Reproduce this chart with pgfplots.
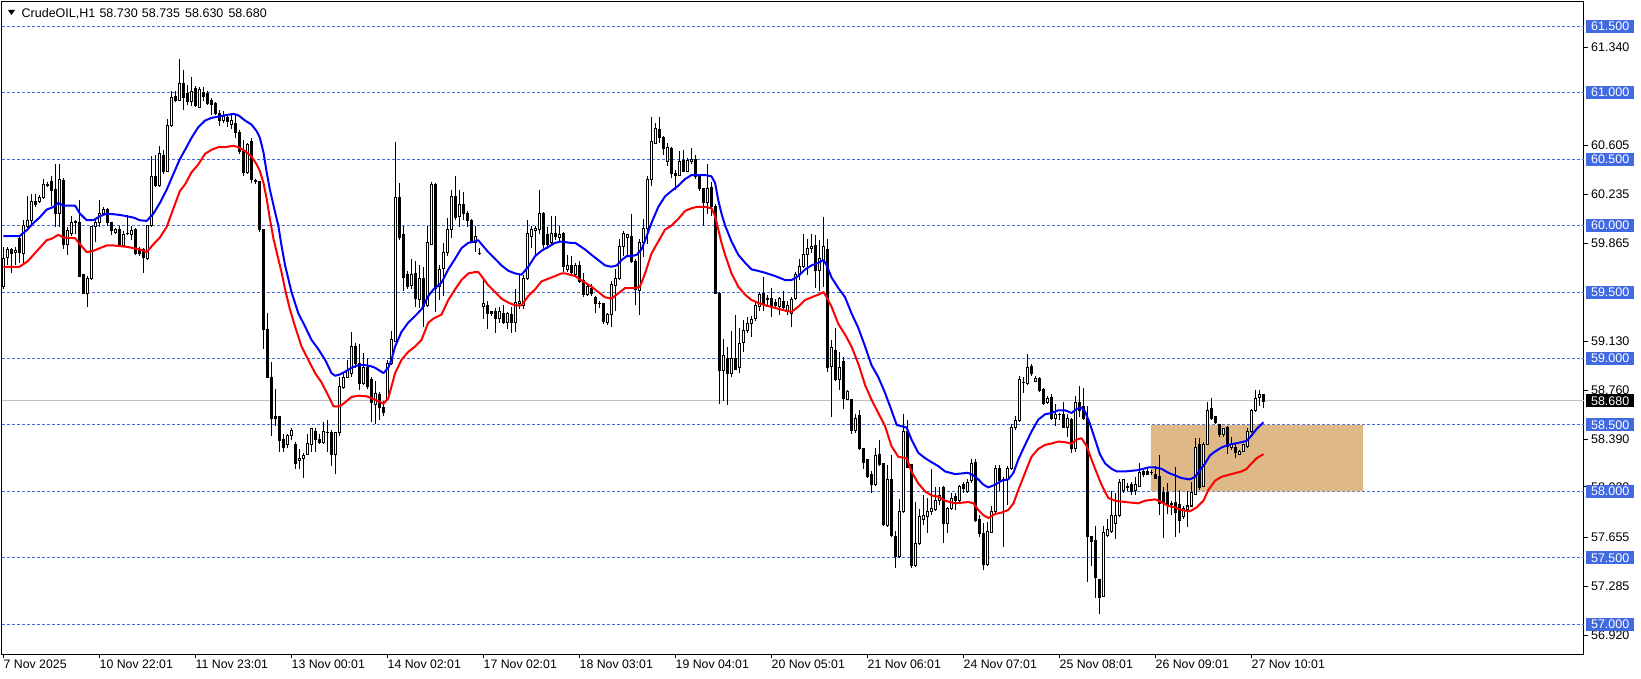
\documentclass[border=0pt]{standalone}
\usepackage{pgfplots}
\usepackage{pgfplotstable}
\pgfplotsset{compat=1.18}
\usepackage{fontspec}
\setmainfont{Liberation Sans}
\definecolor{mtblue}{RGB}{65,105,225}
\definecolor{boxtan}{RGB}{222,184,135}
\definecolor{pricegray}{RGB}{192,192,192}
\newcommand{\lbl}{\fontsize{12.5}{14}\selectfont}

\pgfplotstableread{
n o h l c
0 59.54 59.84 59.52 59.75
1 59.76 59.84 59.70 59.82
2 59.82 59.83 59.64 59.79
3 59.80 59.84 59.70 59.81
4 59.90 59.92 59.72 59.80
5 59.79 60.04 59.72 60.00
6 59.99 60.22 59.97 60.04
7 60.04 60.24 60.00 60.18
8 60.18 60.24 60.14 60.16
9 60.18 60.23 60.17 60.21
10 60.21 60.35 60.20 60.31
11 60.31 60.33 60.29 60.30
12 60.33 60.37 60.15 60.26
13 60.27 60.46 59.99 60.09
14 60.09 60.46 59.99 60.35
15 60.34 60.36 59.82 59.86
16 59.86 59.99 59.78 59.96
17 59.94 60.07 59.92 60.02
18 60.03 60.04 59.94 60.02
19 60.02 60.19 59.62 59.62
20 59.63 59.63 59.49 59.49
21 59.49 59.62 59.39 59.60
22 59.60 60.00 59.59 59.99
23 59.99 60.04 59.88 60.02
24 60.02 60.19 59.99 60.09
25 60.09 60.14 60.08 60.12
26 60.12 60.13 60.00 60.02
27 60.02 60.03 59.93 59.96
28 59.95 59.98 59.94 59.97
29 59.97 60.00 59.84 59.85
30 59.85 59.96 59.84 59.93
31 59.94 60.08 59.93 59.94
32 59.93 60.00 59.89 59.96
33 59.97 59.98 59.78 59.79
34 59.82 59.84 59.77 59.79
35 59.82 59.83 59.64 59.76
36 59.75 60.00 59.74 60.00
37 60.00 60.52 59.99 60.37
38 60.37 60.53 60.29 60.30
39 60.30 60.60 60.29 60.54
40 60.53 60.57 60.39 60.41
41 60.41 60.80 60.40 60.75
42 60.75 61.01 60.74 60.96
43 60.97 61.01 60.93 60.94
44 60.94 61.25 60.94 61.07
45 61.07 61.17 60.87 60.96
46 60.99 61.06 60.91 60.93
47 60.93 61.12 60.90 61.01
48 61.03 61.05 60.89 60.90
49 60.89 61.04 60.89 61.02
50 61.00 61.04 60.94 60.97
51 60.99 61.01 60.91 60.92
52 60.94 60.96 60.83 60.91
53 60.92 60.93 60.83 60.84
54 60.84 60.87 60.75 60.79
55 60.79 60.86 60.77 60.82
56 60.81 60.84 60.74 60.78
57 60.76 60.84 60.73 60.79
58 60.77 60.84 60.66 60.70
59 60.70 60.72 60.54 60.56
60 60.56 60.64 60.37 60.40
61 60.40 60.62 60.39 60.61
62 60.63 60.66 60.32 60.35
63 60.34 60.35 60.31 60.33
64 60.33 60.33 59.95 59.97
65 59.97 59.97 59.07 59.22
66 59.22 59.34 58.85 58.86
67 58.86 58.97 58.42 58.55
68 58.56 58.77 58.49 58.55
69 58.56 58.57 58.30 58.38
70 58.39 58.43 58.30 58.33
71 58.35 58.43 58.33 58.42
72 58.42 58.48 58.39 58.46
73 58.35 58.37 58.17 58.21
74 58.23 58.32 58.17 58.25
75 58.25 58.29 58.10 58.27
76 58.28 58.43 58.27 58.36
77 58.35 58.48 58.30 58.47
78 58.45 58.48 58.30 58.39
79 58.39 58.43 58.36 58.37
80 58.37 58.52 58.36 58.45
81 58.44 58.54 58.30 58.44
82 58.44 58.46 58.19 58.28
83 58.28 58.45 58.13 58.44
84 58.44 58.86 58.42 58.79
85 58.78 58.89 58.77 58.86
86 58.86 58.99 58.86 58.91
87 58.89 59.20 58.86 59.09
88 59.09 59.12 58.93 58.96
89 58.96 59.11 58.76 58.81
90 58.81 59.04 58.80 58.93
91 58.93 59.00 58.77 58.79
92 58.84 58.86 58.52 58.67
93 58.65 58.83 58.51 58.74
94 58.73 58.75 58.54 58.63
95 58.63 58.68 58.57 58.59
96 58.70 58.99 58.69 58.96
97 58.96 59.21 58.95 59.14
98 59.13 60.63 59.13 60.21
99 60.21 60.32 59.89 59.91
100 59.93 60.00 59.51 59.61
101 59.63 59.66 59.52 59.54
102 59.55 59.75 59.52 59.63
103 59.64 59.73 59.39 59.45
104 59.44 59.70 59.38 59.60
105 59.60 59.69 59.24 59.39
106 59.40 60.00 59.39 59.87
107 59.86 60.33 59.85 60.31
108 60.31 60.32 59.35 59.53
109 59.54 59.70 59.44 59.67
110 59.68 59.87 59.47 59.80
111 59.80 60.06 59.77 59.97
112 59.97 60.27 59.91 60.22
113 60.22 60.37 60.04 60.06
114 60.07 60.27 59.99 60.16
115 60.16 60.25 60.04 60.09
116 60.09 60.11 59.99 60.04
117 60.04 60.05 59.87 59.87
118 59.87 60.00 59.80 59.92
119 59.79 59.83 59.78 59.79
120 59.39 59.60 59.30 59.41
121 59.40 59.43 59.22 59.34
122 59.35 59.36 59.32 59.34
123 59.35 59.38 59.19 59.30
124 59.30 59.39 59.27 59.35
125 59.34 59.40 59.26 59.27
126 59.27 59.35 59.22 59.34
127 59.33 59.39 59.19 59.27
128 59.27 59.52 59.20 59.42
129 59.41 59.63 59.37 59.43
130 59.40 59.63 59.37 59.60
131 59.60 60.04 59.59 59.94
132 59.92 60.00 59.83 59.97
133 59.96 60.00 59.77 59.98
134 59.97 60.27 59.94 60.09
135 60.09 60.10 59.81 59.86
136 59.93 59.99 59.82 59.86
137 59.87 60.07 59.86 59.94
138 59.94 60.07 59.89 59.92
139 59.91 60.00 59.88 59.93
140 59.94 59.95 59.65 59.69
141 59.67 59.78 59.65 59.70
142 59.70 59.77 59.63 59.65
143 59.63 59.72 59.62 59.70
144 59.70 59.73 59.57 59.58
145 59.59 59.64 59.46 59.48
146 59.48 59.57 59.47 59.54
147 59.53 59.56 59.47 59.49
148 59.46 59.47 59.34 59.41
149 59.41 59.43 59.38 59.41
150 59.41 59.42 59.26 59.28
151 59.27 59.34 59.25 59.33
152 59.33 59.58 59.24 59.56
153 59.55 59.67 59.36 59.60
154 59.60 59.90 59.59 59.84
155 59.84 59.96 59.77 59.94
156 59.91 59.94 59.77 59.93
157 59.92 60.09 59.72 59.73
158 59.73 59.75 59.40 59.52
159 59.51 59.90 59.33 59.87
160 59.87 60.05 59.76 59.98
161 59.98 60.37 59.86 60.35
162 60.35 60.82 60.30 60.63
163 60.62 60.77 60.61 60.73
164 60.72 60.82 60.62 60.66
165 60.66 60.67 60.53 60.58
166 60.48 60.62 60.45 60.59
167 60.58 60.59 60.36 60.39
168 60.39 60.42 60.27 60.38
169 60.38 60.56 60.37 60.48
170 60.49 60.57 60.40 60.41
171 60.41 60.51 60.40 60.49
172 60.48 60.58 60.46 60.50
173 60.50 60.53 60.35 60.37
174 60.37 60.39 60.26 60.28
175 60.28 60.28 60.00 60.17
176 60.17 60.46 60.09 60.28
177 60.29 60.33 60.07 60.14
178 60.14 60.16 59.49 59.49
179 59.49 59.50 58.66 58.91
180 58.91 59.15 58.68 59.02
181 59.00 59.09 58.65 58.89
182 58.89 59.21 58.86 59.00
183 59.00 59.33 58.91 58.92
184 58.93 59.23 58.89 59.11
185 59.12 59.29 59.05 59.21
186 59.21 59.31 59.19 59.26
187 59.26 59.32 59.16 59.29
188 59.30 59.43 59.28 59.40
189 59.39 59.50 59.36 59.48
190 59.49 59.61 59.36 59.41
191 59.45 59.48 59.39 59.44
192 59.45 59.53 59.31 59.39
193 59.42 59.45 59.38 59.40
194 59.39 59.46 59.33 59.45
195 59.43 59.51 59.37 59.38
196 59.35 59.43 59.33 59.40
197 59.34 59.46 59.24 59.44
198 59.45 59.65 59.44 59.63
199 59.63 59.75 59.59 59.69
200 59.69 59.94 59.68 59.78
201 59.78 59.90 59.63 59.83
202 59.83 59.94 59.79 59.84
203 59.85 59.93 59.53 59.66
204 59.66 59.89 59.51 59.75
205 59.74 60.065 59.54 59.84
206 59.82 59.90 58.90 58.93
207 58.94 59.14 58.56 59.08
208 59.06 59.23 58.83 58.84
209 58.84 59.05 58.76 58.93
210 58.98 59.01 58.62 58.70
211 58.69 58.76 58.69 58.75
212 58.69 58.69 58.43 58.46
213 58.46 58.58 58.44 58.55
214 58.57 58.61 58.31 58.32
215 58.32 58.33 58.17 58.22
216 58.24 58.24 58.10 58.11
217 58.13 58.15 57.99 58.05
218 58.05 58.33 58.04 58.27
219 58.28 58.39 58.19 58.20
220 58.21 58.21 57.74 57.75
221 57.74 58.20 57.73 58.09
222 58.09 58.27 57.66 57.67
223 57.66 57.70 57.42 57.51
224 57.51 57.94 57.50 57.85
225 57.85 58.58 57.84 58.45
226 58.45 58.54 58.18 58.18
227 58.20 58.20 57.42 57.44
228 57.44 57.92 57.43 57.61
229 57.61 57.87 57.60 57.81
230 57.79 57.97 57.75 57.82
231 57.81 57.95 57.69 57.85
232 57.85 58.17 57.82 57.87
233 57.86 58.03 57.85 57.93
234 57.93 58.03 57.90 57.97
235 58.03 58.04 57.61 57.76
236 57.76 57.88 57.69 57.87
237 57.87 57.99 57.86 57.95
238 57.96 57.99 57.86 57.93
239 57.93 58.05 57.92 58.04
240 58.05 58.07 57.99 58.02
241 58.00 58.09 57.99 58.07
242 58.08 58.24 58.06 58.21
243 58.22 58.24 57.77 57.78
244 57.79 57.82 57.66 57.68
245 57.68 57.76 57.41 57.45
246 57.45 57.77 57.44 57.70
247 57.69 57.89 57.69 57.85
248 57.85 58.20 57.84 58.17
249 58.17 58.20 58.00 58.08
250 58.09 58.11 57.58 58.08
251 58.09 58.19 57.90 58.17
252 58.17 58.51 58.16 58.48
253 58.48 58.57 58.46 58.53
254 58.53 58.87 58.52 58.84
255 58.82 58.86 58.74 58.82
256 58.81 59.03 58.80 58.93
257 58.94 58.96 58.87 58.89
258 58.83 58.87 58.82 58.85
259 58.85 58.86 58.75 58.76
260 58.77 58.78 58.65 58.66
261 58.67 58.72 58.66 58.70
262 58.71 58.73 58.54 58.55
263 58.55 58.66 58.49 58.58
264 58.58 58.59 58.54 58.58
265 58.58 58.67 58.48 58.48
266 58.48 58.58 58.41 58.55
267 58.54 58.55 58.29 58.32
268 58.32 58.72 58.30 58.67
269 58.67 58.79 58.56 58.61
270 58.64 58.78 58.54 58.55
271 58.55 58.64 57.32 57.66
272 57.66 57.66 57.44 57.62
273 57.63 57.74 57.20 57.35
274 57.34 57.34 57.08 57.20
275 57.21 57.74 57.21 57.69
276 57.67 57.79 57.66 57.71
277 57.70 58.00 57.69 57.82
278 57.76 57.99 57.64 57.82
279 57.82 58.09 57.81 58.07
280 58.01 58.09 57.99 58.09
281 58.04 58.06 58.00 58.03
282 58.05 58.07 57.97 58.00
283 58.01 58.11 57.97 58.05
284 58.04 58.21 58.03 58.14
285 58.15 58.16 58.11 58.13
286 58.15 58.17 58.12 58.13
287 58.14 58.16 58.12 58.14
288 58.13 58.19 58.09 58.10
289 58.11 58.27 57.82 57.91
290 57.99 58.03 57.65 57.91
291 57.99 58.06 57.83 57.90
292 57.91 57.93 57.82 57.90
293 57.92 58.18 57.66 57.84
294 57.90 58.01 57.69 57.78
295 57.81 57.89 57.79 57.87
296 57.86 58.00 57.73 57.89
297 57.89 58.07 57.88 57.99
298 57.98 58.40 57.97 58.33
299 58.35 58.40 58.01 58.03
300 58.04 58.37 58.03 58.35
301 58.35 58.67 58.35 58.61
302 58.62 58.70 58.54 58.55
303 58.56 58.57 58.51 58.52
304 58.50 58.51 58.41 58.43
305 58.43 58.48 58.41 58.47
306 58.48 58.49 58.28 58.34
307 58.33 58.41 58.31 58.35
308 58.33 58.36 58.25 58.29
309 58.28 58.31 58.27 58.30
310 58.30 58.36 58.30 58.35
311 58.34 58.48 58.33 58.45
312 58.45 58.62 58.44 58.61
313 58.61 58.76 58.60 58.70
314 58.71 58.76 58.64 58.73
315 58.73 58.735 58.63 58.68
}\candles

\pgfplotstableread{
n p
0 59.92
4 59.92
6 59.97
7.5 60.02
9 60.06
10.8 60.12
12.5 60.14
13.7 60.17
15 60.15
17.9 60.15
19.1 60.09
20.8 60.04
22.5 60.04
24.1 60.07
25.8 60.09
27.5 60.085
29.1 60.08
30.8 60.07
32.5 60.06
34.1 60.04
35.8 60.035
37.5 60.09
39.1 60.17
40.8 60.27
42.5 60.39
44.1 60.50
45.4 60.57
47.0 60.66
48.7 60.74
50.4 60.79
52.0 60.81
53.7 60.82
55.4 60.83
57.5 60.84
58.7 60.83
60.4 60.79
62.0 60.76
63.3 60.71
64.1 60.66
65.0 60.55
65.8 60.40
66.6 60.27
67.9 60.10
68.7 60.00
69.5 59.85
70.4 59.70
71.2 59.60
72.0 59.50
73.7 59.34
75.4 59.24
77.0 59.14
78.7 59.07
80.4 58.99
82.0 58.89
82.9 58.87
84.1 58.88
85.4 58.90
87.0 58.93
88.7 58.95
90.4 58.95
92.0 58.94
92.9 58.93
95.0 58.89
96.2 58.93
97.0 58.99
97.9 59.09
99.5 59.20
101.2 59.27
102.9 59.32
104.5 59.37
106.2 59.47
107.5 59.52
109.5 59.57
111.2 59.67
112.9 59.75
114.5 59.83
116.2 59.87
117.9 59.88
118.7 59.89
119.5 59.86
121.2 59.80
122.9 59.75
124.5 59.70
126.2 59.66
127.9 59.64
129.5 59.63
131.2 59.69
132.9 59.77
134.5 59.81
136.2 59.84
137.9 59.87
139.5 59.88
141.6 59.87
142.9 59.87
145.4 59.82
147.0 59.78
148.7 59.74
150.4 59.70
152.0 59.69
153.3 59.70
154.5 59.74
155.8 59.77
157.0 59.77
158.3 59.78
159.5 59.82
160.8 59.92
162.0 60.02
163.7 60.14
165.4 60.22
167.0 60.26
168.7 60.30
170.4 60.35
172.0 60.38
173.7 60.38
175.4 60.38
177.0 60.37
177.9 60.32
178.7 60.19
179.5 60.09
180.4 60.00
182.0 59.88
183.7 59.78
185.4 59.72
187.0 59.67
188.5 59.66
190.4 59.645
192.9 59.62
195.4 59.59
197.0 59.59
198.7 59.62
200.4 59.67
202.0 59.70
203.7 59.72
205.0 59.74
205.8 59.70
207.0 59.61
208.7 59.53
210.4 59.46
212.0 59.34
213.7 59.23
215.4 59.09
217.0 58.95
218.7 58.86
220.4 58.74
222.0 58.61
223.3 58.50
224.5 58.49
225.8 58.48
227.0 58.39
228.7 58.29
230.4 58.25
232.0 58.22
233.7 58.19
235.4 58.15
237.9 58.13
241.2 58.14
242.5 58.12
243.7 58.09
245.0 58.05
246.2 58.03
247.9 58.05
249.5 58.08
251.2 58.09
252.5 58.14
253.7 58.24
255.4 58.35
257.0 58.45
258.7 58.54
260.4 58.58
262.0 58.59
263.7 58.61
265.4 58.61
267.0 58.59
268.3 58.62
269.5 58.63
270.4 58.60
271.6 58.51
272.9 58.39
274.1 58.28
275.4 58.21
277.0 58.17
278.3 58.15
280.4 58.15
283.7 58.16
286.2 58.18
287.9 58.18
289.5 58.17
291.2 58.14
292.9 58.12
294.5 58.10
296.6 58.09
297.9 58.11
299.1 58.16
300.4 58.21
301.6 58.27
302.9 58.30
304.5 58.33
306.2 58.35
307.9 58.36
309.5 58.37
310.8 58.38
312.0 58.42
313.3 58.47
315.0 58.52
}\bluema

\pgfplotstableread{
n p
0 59.69
4 59.69
6 59.73
7.5 59.78
9 59.83
10.8 59.89
12 59.90
13.7 59.93
15 59.91
17.9 59.905
19.1 59.86
20.8 59.80
22.5 59.81
24.1 59.83
25.8 59.85
27.5 59.85
29.1 59.845
30.8 59.84
32.5 59.83
34.1 59.82
35.8 59.80
37.5 59.86
39.1 59.91
40.8 59.99
42.5 60.13
44.1 60.26
45.4 60.31
47.0 60.40
48.7 60.46
50.4 60.54
52.0 60.57
53.7 60.59
55.4 60.59
57.5 60.60
58.7 60.59
60.4 60.56
62.0 60.52
63.3 60.46
64.1 60.41
65.0 60.32
65.8 60.20
66.6 60.05
67.5 59.90
68.7 59.75
69.5 59.65
70.4 59.52
71.6 59.37
72.9 59.24
74.5 59.09
76.2 58.99
77.9 58.89
79.5 58.82
81.2 58.72
82.5 58.64
84.1 58.64
85.4 58.67
87.0 58.71
88.7 58.72
90.8 58.715
92.0 58.70
92.9 58.69
95.0 58.66
96.2 58.70
97.0 58.79
97.9 58.89
99.5 58.99
101.2 59.05
102.9 59.09
104.5 59.14
106.2 59.27
107.5 59.30
109.5 59.33
111.2 59.44
112.9 59.52
114.5 59.59
116.2 59.64
117.9 59.65
118.7 59.65
119.5 59.62
121.2 59.55
122.9 59.50
124.5 59.45
126.2 59.42
127.9 59.40
129.5 59.40
131.2 59.47
132.9 59.52
134.5 59.58
136.2 59.60
137.9 59.62
139.5 59.64
140.4 59.64
142.9 59.62
145.4 59.57
147.0 59.54
148.7 59.50
150.4 59.46
152.0 59.45
153.7 59.49
155.4 59.53
157.9 59.53
159.1 59.54
160.4 59.64
162.0 59.79
163.7 59.88
165.4 59.97
167.0 60.00
168.7 60.05
170.4 60.11
172.0 60.13
173.3 60.14
175.4 60.14
177.0 60.13
177.9 60.07
178.7 59.97
179.5 59.87
180.4 59.78
182.0 59.64
183.7 59.54
185.4 59.48
187.0 59.44
188.5 59.42
190.4 59.40
192.9 59.38
195.4 59.36
197.0 59.35
198.7 59.39
200.4 59.44
202.0 59.46
203.7 59.48
205.0 59.50
205.8 59.46
207.0 59.39
208.7 59.26
210.4 59.18
212.0 59.09
213.7 58.96
215.4 58.80
217.0 58.69
218.7 58.59
220.4 58.49
222.0 58.34
223.7 58.26
225.8 58.25
227.0 58.15
228.7 58.06
230.4 58.00
232.0 57.97
233.7 57.96
235.4 57.93
237.9 57.91
241.2 57.92
242.5 57.91
243.7 57.86
245.0 57.82
246.2 57.80
247.9 57.83
249.5 57.84
251.2 57.86
252.5 57.91
253.7 58.01
255.4 58.14
257.0 58.26
258.7 58.32
260.4 58.35
262.0 58.36
263.7 58.375
265.4 58.37
267.0 58.36
268.3 58.39
269.5 58.40
270.8 58.34
272.0 58.24
273.3 58.14
274.5 58.05
276.2 57.95
277.9 57.93
280.4 57.92
283.7 57.91
285.4 57.93
287.9 57.94
289.5 57.92
291.2 57.89
292.9 57.88
294.5 57.86
296.6 57.85
298.3 57.88
300.0 57.93
301.2 58.01
302.9 58.08
304.5 58.11
307.0 58.13
309.5 58.15
310.8 58.17
312.0 58.21
313.3 58.25
315.0 58.28
}\redma

\newcommand{\bluelabel}[2]{\node[fill=mtblue, text=white, inner sep=0pt, minimum width=48pt, minimum height=13pt, anchor=west, xshift=2pt, font=\lbl] at (axis cs:395.125,#1) {#2};}
\newcommand{\autolabel}[2]{\draw[black, line width=1pt] (axis cs:395.125,#1) -- ++(4pt,0pt); \node[inner sep=0pt, anchor=west, xshift=7pt, font=\lbl] at (axis cs:395.125,#1) {#2};}

\begin{document}
\begin{tikzpicture}[x=1pt,y=1pt]
\path[use as bounding box] (0,0) rectangle (1641,678);
\begin{axis}[
  at={(2pt,24pt)}, anchor=south west,
  scale only axis, width=1582pt, height=652pt,
  xmin=-0.375, xmax=395.125, ymin=56.7765, ymax=61.682,
  clip=false,
  axis line style={black, line width=1pt},
  ytick=\empty,
  xtick={0,24,...,312},
  xticklabels={7 Nov 2025,10 Nov 22:01,11 Nov 23:01,13 Nov 00:01,14 Nov 02:01,17 Nov 02:01,18 Nov 03:01,19 Nov 04:01,20 Nov 05:01,21 Nov 06:01,24 Nov 07:01,25 Nov 08:01,26 Nov 09:01,27 Nov 10:01},
  xtick pos=bottom,
  tick align=outside, major tick length=4pt,
  xtick style={black, line width=1pt},
  xticklabel style={anchor=north west, inner sep=0pt, xshift=0pt, yshift=-2pt, font=\fontsize{12.3}{14}\selectfont},
]
% horizontal dashed levels
\pgfplotsinvokeforeach{57.0,57.5,58.0,58.5,59.0,59.5,60.0,60.5,61.0,61.5}{
  \addplot[mtblue, line width=1pt, dash pattern=on 3pt off 2pt, forget plot] coordinates {(-0.375,#1) (395.125,#1)};
}
% current price line
\addplot[pricegray, line width=1pt, forget plot] coordinates {(-0.375,58.68) (395.125,58.68)};
% zone rectangle
\addplot[fill=boxtan, draw=none, forget plot] coordinates {(286.875,58.0) (339.875,58.0) (339.875,58.5) (286.875,58.5) (286.875,58.0)};
% wicks
\addplot[draw=none, mark=none, forget plot,
  error bars/.cd, y dir=minus, y explicit, error mark=none,
  error bar style={draw=black, line width=1pt}]
  table[x=n, y=h, y error minus expr={\thisrow{h}-\thisrow{l}}] {\candles};
% bear bodies
\addplot[draw=none, mark=none, forget plot,
  restrict expr to domain={\thisrow{o}-\thisrow{c}}{0.00001:100},
  error bars/.cd, y dir=minus, y explicit, error mark=none,
  error bar style={draw=black, line width=3pt}]
  table[x=n, y expr={\thisrow{o}+0.0038}, y error minus expr={\thisrow{o}-\thisrow{c}+0.0076}] {\candles};
% bull bodies outline
\addplot[draw=none, mark=none, forget plot,
  restrict expr to domain={\thisrow{c}-\thisrow{o}}{0:100},
  error bars/.cd, y dir=minus, y explicit, error mark=none,
  error bar style={draw=black, line width=3pt}]
  table[x=n, y expr={\thisrow{c}+0.0038}, y error minus expr={\thisrow{c}-\thisrow{o}+0.0076}] {\candles};
% bull bodies inside
\addplot[draw=none, mark=none, forget plot,
  restrict expr to domain={\thisrow{c}-\thisrow{o}}{0:100},
  error bars/.cd, y dir=minus, y explicit, error mark=none,
  error bar style={draw=white, line width=1pt}]
  table[x=n, y expr={\thisrow{c}-0.0038}, y error minus expr={max(\thisrow{c}-\thisrow{o}-0.0076,0)}] {\candles};
% moving averages
\addplot[red, line width=2pt, line join=round, forget plot] table[x=n, y=p] {\redma};
\addplot[blue, line width=2pt, line join=round, forget plot] table[x=n, y=p] {\bluema};
% right scale labels
\autolabel{61.34}{61.340}
\autolabel{60.605}{60.605}
\autolabel{60.235}{60.235}
\autolabel{59.865}{59.865}
\autolabel{59.13}{59.130}
\autolabel{58.76}{58.760}
\autolabel{58.39}{58.390}
\autolabel{58.035}{58.020}
\autolabel{57.655}{57.655}
\autolabel{57.285}{57.285}
\autolabel{56.915}{56.920}
\bluelabel{61.5}{61.500}
\bluelabel{61.0}{61.000}
\bluelabel{60.5}{60.500}
\bluelabel{60.0}{60.000}
\bluelabel{59.5}{59.500}
\bluelabel{59.0}{59.000}
\bluelabel{58.5}{58.500}
\bluelabel{58.0}{58.000}
\bluelabel{57.5}{57.500}
\bluelabel{57.0}{57.000}
\node[fill=black, text=white, inner sep=0pt, minimum width=48pt, minimum height=13pt, anchor=west, xshift=2pt, font=\lbl] at (axis cs:395.125,58.68) {58.680};
\end{axis}
% title
\fill[black] (8,668) -- (15,668) -- (11.5,663) -- cycle;
\node[anchor=base west, inner sep=0pt, font=\lbl] at (21.5,660.7) {CrudeOIL,H1};
\node[anchor=base west, inner sep=0pt, font=\lbl] at (99.3,660.7) {58.730};
\node[anchor=base west, inner sep=0pt, font=\lbl] at (141.7,660.7) {58.735};
\node[anchor=base west, inner sep=0pt, font=\lbl] at (185,660.7) {58.630};
\node[anchor=base west, inner sep=0pt, font=\lbl] at (228.3,660.7) {58.680};
\end{tikzpicture}
\end{document}
